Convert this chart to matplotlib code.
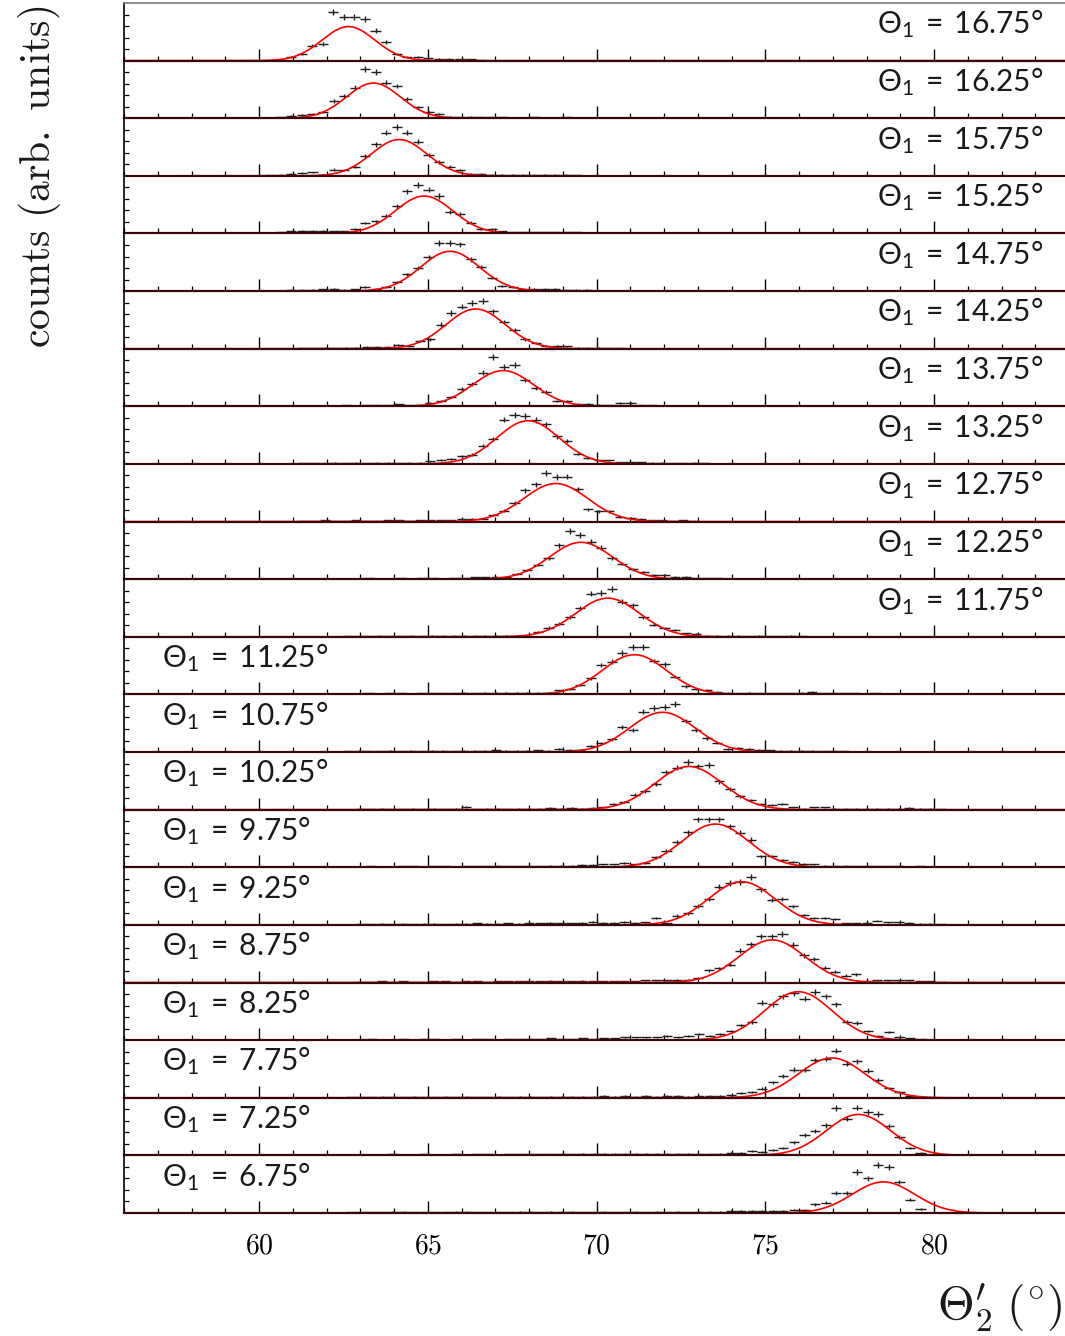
import numpy as np
import matplotlib
matplotlib.use("Agg")
import matplotlib.pyplot as plt
from matplotlib.ticker import MultipleLocator, FixedLocator

# Sans-serif maths for the slice labels; Computer Modern elsewhere
plt.rcParams["mathtext.fontset"] = "custom"
plt.rcParams["mathtext.rm"] = "Lato"
plt.rcParams["mathtext.it"] = "Lato:italic"
plt.rcParams["mathtext.bf"] = "Lato:bold"
plt.rcParams["mathtext.sf"] = "Lato"

# Scattering angle of particle 1 for each slice (top to bottom)
theta1 = [16.75, 16.25, 15.75, 15.25, 14.75, 14.25, 13.75, 13.25, 12.75, 12.25,
          11.75, 11.25, 10.75, 10.25, 9.75, 9.25, 8.75, 8.25, 7.75, 7.25, 6.75]

# Gaussian fit parameters per slice
fit_mean = [62.65, 63.39, 64.15, 64.89, 65.66, 66.42, 67.23, 67.97, 68.79, 69.54,
            70.33, 71.12, 71.95, 72.73, 73.52, 74.30, 75.20, 75.98, 76.97, 77.76, 78.50]
fit_sigma = [0.78, 0.80, 0.82, 0.85, 0.87, 0.88, 0.90, 0.92, 0.95, 0.93,
             0.95, 0.95, 0.97, 1.00, 0.98, 0.98, 0.98, 1.00, 0.98, 0.95, 0.92]
fit_amp = [0.59, 0.61, 0.63, 0.65, 0.69, 0.69, 0.62, 0.75, 0.66, 0.64,
           0.67, 0.69, 0.69, 0.75, 0.75, 0.75, 0.74, 0.84, 0.69, 0.71, 0.54]

# Histogram binning (degrees) and centre of the first filled bin per slice
bin_width = 0.3125
first_bin = [60.64, 60.335, 60.335, 60.335, 60.335, 61.32, 61.32, 61.32, 61.32, 62.64,
             62.64, 62.64, 62.64, 63.01, 63.01, 63.01, 63.01, 62.725, 62.725, 62.725, 62.725]

# Normalised counts per slice
c1675 = [0.01, 0.06, 0.12, 0.26, 0.29, 0.84, 0.76, 0.76, 0.72, 0.52, 0.32, 0.12, 0.07,
         0.06, 0.05, 0.03, 0.03, 0.02, 0.02, 0.01]
c1625 = [0.01, 0.02, 0.04, 0.06, 0.07, 0.10, 0.30, 0.38, 0.53, 0.85, 0.80, 0.62, 0.56,
         0.34, 0.19, 0.11, 0.07, 0.03, 0.02, 0.03, 0.02, 0.02, 0.02, 0.01, 0.01, 0.02,
         0.01, 0.01, 0.02]
c1575 = [0.01, 0.02, 0.04, 0.05, 0.06, 0.02, 0.11, 0.10, 0.16, 0.34, 0.55, 0.75, 0.85,
         0.75, 0.59, 0.36, 0.24, 0.16, 0.10, 0.035, 0.04, 0.02, 0.02, 0.02, 0.02, 0.02,
         0.02, 0.02, 0.02, 0.01]
c1525 = [0.01, 0.02, 0.04, 0.05, 0.05, 0.045, 0.04, 0.04, 0.075, 0.18, 0.21, 0.30, 0.47,
         0.73, 0.84, 0.76, 0.65, 0.37, 0.34, 0.19, 0.08, 0.08, 0.04, 0.02, 0.02, 0.02,
         0.02, 0.02, 0.02, 0.02, 0.01]
c1475 = [0.01, 0.01, 0.02, 0.02, 0.02, 0.03, 0.045, 0.02, 0.03, 0.07, 0.045, 0.07, 0.16,
         0.29, 0.40, 0.59, 0.84, 0.84, 0.81, 0.55, 0.42, 0.23, 0.09, 0.07, 0.04, 0.035,
         0.04, 0.035, 0.02, 0.02, 0.02, 0.01]
c1425 = [0.01, 0.01, 0.02, 0.01, 0.02, 0.02, 0.03, 0.03, 0.03, 0.06, 0.05, 0.13, 0.16,
         0.42, 0.62, 0.73, 0.80, 0.83, 0.65, 0.46, 0.32, 0.16, 0.10, 0.05, 0.05, 0.04,
         0.02, 0.02, 0.02, 0.01, 0.01]
c1375 = [0.01, 0.01, 0.01, 0.01, 0.02, 0.01, 0.02, 0.02, 0.02, 0.035, 0.02, 0.02, 0.06,
         0.09, 0.16, 0.30, 0.39, 0.58, 0.86, 0.68, 0.72, 0.46, 0.32, 0.25, 0.09, 0.09,
         0.045, 0.045, 0.03, 0.02, 0.06, 0.06, 0.02, 0.02, 0.01]
c1325 = [0.01, 0.01, 0.01, 0.02, 0.01, 0.02, 0.01, 0.02, 0.02, 0.01, 0.02, 0.02, 0.045,
         0.07, 0.09, 0.13, 0.16, 0.32, 0.43, 0.77, 0.85, 0.83, 0.76, 0.69, 0.48, 0.40,
         0.17, 0.10, 0.06, 0.06, 0.03, 0.03, 0.03, 0.02, 0.02, 0.01, 0.01, 0.02, 0.01]
c1275 = [0.01, 0.01, 0.02, 0.01, 0.01, 0.02, 0.01, 0.01, 0.02, 0.02, 0.01, 0.02, 0.02,
         0.02, 0.02, 0.05, 0.05, 0.05, 0.12, 0.19, 0.32, 0.54, 0.65, 0.84, 0.77, 0.78,
         0.56, 0.21, 0.18, 0.18, 0.075, 0.06, 0.05, 0.02, 0.02, 0.01, 0.02, 0.01]
c1225 = [0.01, 0.01, 0.02, 0.01, 0.01, 0.02, 0.01, 0.02, 0.02, 0.01, 0.02, 0.02, 0.03,
         0.03, 0.04, 0.04, 0.09, 0.16, 0.25, 0.36, 0.59, 0.84, 0.77, 0.65, 0.55, 0.36,
         0.27, 0.17, 0.13, 0.075, 0.075, 0.04, 0.04, 0.02, 0.02, 0.02, 0.01, 0.01]
c1175 = [0.01, 0.01, 0.01, 0.02, 0.01, 0.01, 0.02, 0.01, 0.02, 0.02, 0.02, 0.02, 0.02,
         0.02, 0.02, 0.02, 0.02, 0.02, 0.09, 0.16, 0.23, 0.34, 0.50, 0.75, 0.76, 0.83,
         0.61, 0.55, 0.34, 0.21, 0.15, 0.12, 0.06, 0.05, 0.02, 0.02, 0.02, 0.02, 0.01,
         0.02, 0.01, 0.01, 0.02, 0.01]
c1125 = [0.01, 0.01, 0.02, 0.01, 0.02, 0.02, 0.01, 0.02, 0.02, 0.02, 0.02, 0.03, 0.02,
         0.03, 0.03, 0.03, 0.03, 0.03, 0.03, 0.03, 0.07, 0.09, 0.16, 0.28, 0.51, 0.57,
         0.72, 0.82, 0.83, 0.58, 0.52, 0.31, 0.14, 0.10, 0.08, 0.05, 0.03, 0.02, 0.03,
         0.02, 0.02, 0.02, 0.02, 0.03, 0.05, 0.02, 0.02, 0.02, 0.02, 0.01, 0.02, 0.01]
c1075 = [0.01, 0.02, 0.01, 0.01, 0.02, 0.01, 0.02, 0.01, 0.02, 0.02, 0.01, 0.02, 0.02,
         0.02, 0.03, 0.02, 0.02, 0.02, 0.03, 0.02, 0.05, 0.04, 0.04, 0.10, 0.15, 0.22,
         0.44, 0.38, 0.70, 0.76, 0.78, 0.84, 0.54, 0.38, 0.24, 0.16, 0.05, 0.075, 0.06,
         0.04, 0.03, 0.02, 0.02, 0.02, 0.02, 0.01, 0.02, 0.01]
c1025 = [0.01, 0.01, 0.02, 0.01, 0.01, 0.02, 0.01, 0.02, 0.01, 0.02, 0.05, 0.01, 0.02,
         0.02, 0.01, 0.02, 0.02, 0.02, 0.03, 0.02, 0.03, 0.02, 0.03, 0.04, 0.10, 0.13,
         0.26, 0.32, 0.45, 0.65, 0.73, 0.83, 0.75, 0.77, 0.49, 0.36, 0.23, 0.16, 0.10,
         0.075, 0.10, 0.04, 0.02, 0.04, 0.04, 0.02, 0.02, 0.02, 0.02, 0.02, 0.02, 0.02,
         0.03, 0.02, 0.02, 0.01]
c0975 = [0.01, 0.02, 0.01, 0.01, 0.02, 0.02, 0.01, 0.02, 0.02, 0.01, 0.02, 0.02, 0.02,
         0.03, 0.02, 0.02, 0.03, 0.02, 0.03, 0.03, 0.03, 0.04, 0.04, 0.05, 0.05, 0.075,
         0.05, 0.075, 0.17, 0.28, 0.44, 0.61, 0.83, 0.83, 0.83, 0.71, 0.60, 0.48, 0.19,
         0.19, 0.12, 0.10, 0.06, 0.05, 0.03, 0.02, 0.03, 0.02, 0.02, 0.02, 0.02, 0.02,
         0.01, 0.02, 0.01]
c0925 = [0.01, 0.01, 0.02, 0.01, 0.02, 0.01, 0.02, 0.02, 0.01, 0.02, 0.02, 0.03, 0.02,
         0.02, 0.03, 0.02, 0.03, 0.03, 0.04, 0.03, 0.03, 0.04, 0.05, 0.04, 0.04, 0.05,
         0.04, 0.045, 0.12, 0.03, 0.16, 0.20, 0.33, 0.45, 0.66, 0.73, 0.74, 0.83, 0.62,
         0.43, 0.45, 0.32, 0.17, 0.12, 0.12, 0.10, 0.03, 0.03, 0.04, 0.075, 0.045,
         0.045, 0.04, 0.02, 0.02, 0.01]
c0875 = [0.01, 0.01, 0.02, 0.01, 0.02, 0.01, 0.01, 0.02, 0.02, 0.01, 0.02, 0.02, 0.01,
         0.02, 0.02, 0.02, 0.02, 0.02, 0.03, 0.02, 0.02, 0.03, 0.02, 0.02, 0.02, 0.02,
         0.02, 0.04, 0.04, 0.04, 0.05, 0.05, 0.075, 0.21, 0.25, 0.31, 0.55, 0.66, 0.80,
         0.80, 0.84, 0.65, 0.47, 0.41, 0.26, 0.19, 0.12, 0.14, 0.03, 0.04, 0.04, 0.04,
         0.04, 0.02, 0.02, 0.01]
c0825 = [0.01, 0.01, 0.02, 0.01, 0.01, 0.02, 0.01, 0.02, 0.02, 0.01, 0.02, 0.01, 0.02,
         0.02, 0.01, 0.02, 0.02, 0.02, 0.02, 0.03, 0.02, 0.02, 0.03, 0.02, 0.03, 0.03,
         0.05, 0.05, 0.05, 0.05, 0.07, 0.05, 0.07, 0.10, 0.08, 0.10, 0.16, 0.26, 0.31,
         0.65, 0.62, 0.76, 0.81, 0.72, 0.83, 0.76, 0.62, 0.32, 0.30, 0.16, 0.07, 0.14,
         0.05, 0.03, 0.02]
c0775 = [0.01, 0.01, 0.01, 0.02, 0.01, 0.01, 0.02, 0.01, 0.01, 0.02, 0.01, 0.02, 0.01,
         0.01, 0.02, 0.01, 0.02, 0.02, 0.01, 0.02, 0.02, 0.02, 0.02, 0.02, 0.03, 0.02,
         0.03, 0.02, 0.03, 0.02, 0.03, 0.03, 0.02, 0.03, 0.03, 0.03, 0.04, 0.09, 0.10,
         0.16, 0.27, 0.38, 0.49, 0.49, 0.65, 0.68, 0.82, 0.59, 0.63, 0.47, 0.31, 0.17,
         0.10, 0.03, 0.02]
c0725 = [0.01, 0.01, 0.01, 0.01, 0.02, 0.01, 0.01, 0.02, 0.01, 0.01, 0.02, 0.01, 0.02,
         0.02, 0.01, 0.02, 0.02, 0.02, 0.02, 0.02, 0.03, 0.02, 0.03, 0.03, 0.03, 0.03,
         0.03, 0.03, 0.03, 0.03, 0.03, 0.03, 0.03, 0.02, 0.02, 0.03, 0.04, 0.05, 0.07,
         0.06, 0.10, 0.13, 0.23, 0.35, 0.42, 0.52, 0.82, 0.64, 0.83, 0.75, 0.72, 0.51,
         0.32, 0.13, 0.04]
c0675 = [0.01, 0.01, 0.01, 0.01, 0.02, 0.02, 0.01, 0.01, 0.01, 0.01, 0.02, 0.02, 0.01,
         0.01, 0.01, 0.01, 0.02, 0.02, 0.01, 0.02, 0.02, 0.02, 0.01, 0.01, 0.02, 0.01,
         0.01, 0.02, 0.01, 0.02, 0.01, 0.02, 0.01, 0.02, 0.02, 0.02, 0.035, 0.035, 0.035,
         0.035, 0.035, 0.035, 0.06, 0.06, 0.15, 0.18, 0.35, 0.35, 0.71, 0.60, 0.84, 0.80,
         0.54, 0.23, 0.075]

counts = [c1675, c1625, c1575, c1525, c1475, c1425, c1375, c1325, c1275, c1225,
          c1175, c1125, c1075, c1025, c0975, c0925, c0875, c0825, c0775, c0725, c0675]

x_ticks = [60, 65, 70, 75, 80]
x_tick_labels = ["60", "65", "70", "75", "80"]

W, H = 1065, 1336
fig = plt.figure(figsize=(W / 100, H / 100), dpi=100)

left = 124 / W
right = 1.0
top = 1 - 3 / H
bottom = 1 - 1213 / H
n = len(theta1)
h = (top - bottom) / n
xmin, xmax = 56.0, 83.88
xfine = np.linspace(xmin, xmax, 1500)

for i in range(n):
    ax = fig.add_axes([left, top - (i + 1) * h, right - left, h])
    vals = np.array(counts[i])
    xc = first_bin[i] + bin_width * np.arange(len(vals))
    yerr = 0.05 * np.sqrt(vals / 0.8)
    ax.errorbar(xc, vals, xerr=0.15, yerr=yerr, fmt="none",
                ecolor="#1e1e1e", elinewidth=1.0, capsize=0, zorder=3)
    fit = fit_amp[i] * np.exp(-0.5 * ((xfine - fit_mean[i]) / fit_sigma[i]) ** 2)
    ax.plot(xfine, fit, color="#ff0000", lw=1.2, zorder=4)

    ax.set_xlim(xmin, xmax)
    ax.set_ylim(0, 1)
    ax.patch.set_alpha(0)

    ax.spines["right"].set_visible(False)
    if i == 0:
        ax.spines["top"].set_color("#7a7a7a")
        ax.spines["top"].set_linewidth(1.2)
    else:
        ax.spines["top"].set_visible(False)
    ax.spines["left"].set_color("black")
    ax.spines["left"].set_linewidth(1.2)
    ax.spines["bottom"].set_color("#3a0808")
    ax.spines["bottom"].set_linewidth(1.6)
    ax.spines["bottom"].set_zorder(5)

    ax.xaxis.set_major_locator(FixedLocator(x_ticks))
    ax.xaxis.set_minor_locator(MultipleLocator(1))
    ax.yaxis.set_major_locator(FixedLocator([0.2, 0.4, 0.6, 0.8]))
    ax.tick_params(axis="x", which="major", direction="in", length=8.5, width=1.0,
                   top=False, color="black", pad=13)
    ax.tick_params(axis="x", which="minor", direction="in", length=3.8, width=0.9,
                   top=False, color="black")
    ax.tick_params(axis="y", which="major", direction="in", length=3.5, width=0.9,
                   right=False, labelleft=False, color="black")

    if i == n - 1:
        ax.set_xticklabels([r"$%s$" % t for t in x_tick_labels], fontsize=20,
                           math_fontfamily="cm")
    else:
        ax.set_xticklabels([])

    label = r"$\Theta_{1}\;=\;%s°$" % ("%.2f" % theta1[i])
    if theta1[i] > 11.5:
        ax.text(0.977, 0.47, label, transform=ax.transAxes, ha="right",
                va="baseline", fontsize=21.5, color="#1a1a1a")
    else:
        ax.text(0.0404, 0.47, label, transform=ax.transAxes, ha="left",
                va="baseline", fontsize=21.5, color="#1a1a1a")

fig.text(40 / W, 1 - 177 / H, r"$\mathrm{counts\ (arb.\ units)}$", rotation=90,
         ha="center", va="center", fontsize=30, color="#1a1a1a", math_fontfamily="cm")
fig.text(1063 / W, 1 - 1320 / H, r"$\Theta^{\prime}_{2}\;(^{\circ})$", ha="right",
         va="baseline", fontsize=34, color="#1a1a1a", math_fontfamily="cm")

fig.savefig("out.png", dpi=100)
